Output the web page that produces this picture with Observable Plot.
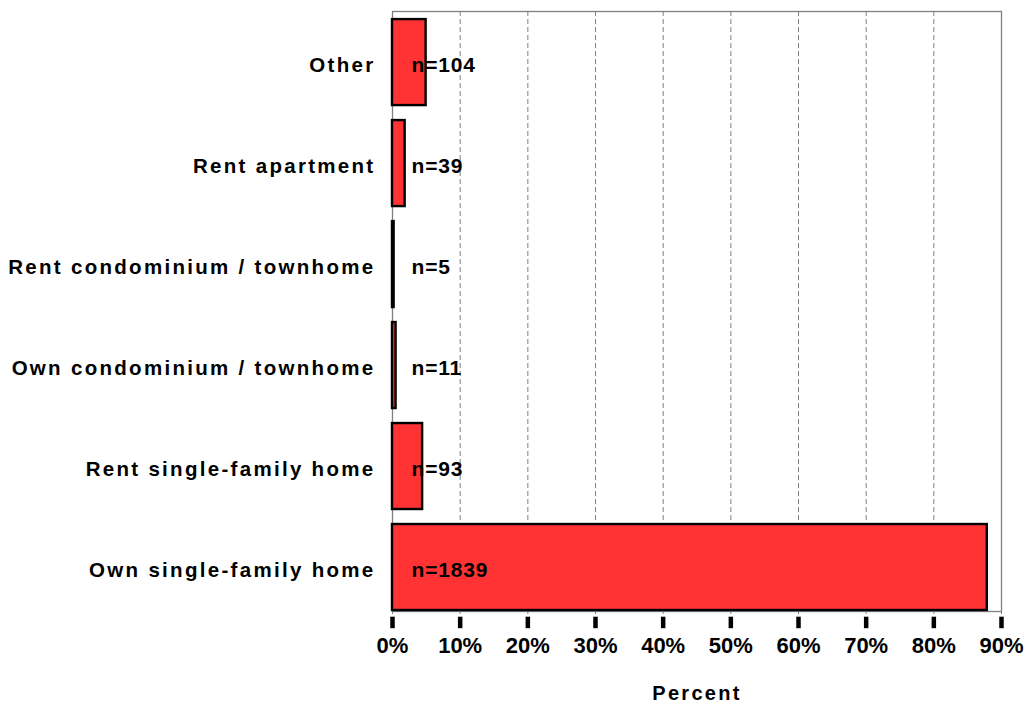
<!DOCTYPE html>
<html>
<head>
<meta charset="utf-8">
<script src="https://cdn.jsdelivr.net/npm/d3@7"></script>
<script src="https://cdn.jsdelivr.net/npm/@observablehq/plot@0.6"></script>
<style>
  html, body { margin: 0; padding: 0; background: #fff; }
  #chart svg { display: block; }
</style>
</head>
<body>
<div id="chart"></div>
<script>
const categories = [
  "Other",
  "Rent apartment",
  "Rent condominium / townhome",
  "Own condominium / townhome",
  "Rent single-family home",
  "Own single-family home"
];
const percents = [4.97, 1.87, 0.24, 0.53, 4.45, 87.9];
const counts = ["n=104", "n=39", "n=5", "n=11", "n=93", "n=1839"];
const xTicks = [0, 10, 20, 30, 40, 50, 60, 70, 80, 90];

const data = categories.map((c, i) => ({category: c, pct: percents[i], label: counts[i]}));
const font = "'Liberation Sans', Arial, sans-serif";

const chart = Plot.plot({
  width: 1027,
  height: 704,
  marginLeft: 392,
  marginRight: 26,
  marginTop: 11,
  marginBottom: 93,
  style: {fontFamily: font, fontSize: "20px", fontWeight: "bold", color: "black", background: "white"},
  x: {domain: [0, 90], ticks: xTicks},
  y: {domain: categories, paddingInner: 0.1485, paddingOuter: 0.045, align: 0.89, round: false},
  marks: [
    Plot.gridX(xTicks.slice(1, -1), {stroke: "#808080", strokeOpacity: 1, strokeDasharray: "5,3", strokeWidth: 1}),
    Plot.frame({stroke: "#808080", strokeWidth: 1.3}),
    Plot.axisX(xTicks, {tickSize: 3, tickFormat: () => "", stroke: "#808080", strokeWidth: 1, label: null}),
    Plot.barX(data, {x: "pct", y: "category", fill: "#FF3333", stroke: "black", strokeWidth: 2.4}),
    Plot.text(data, {x: () => 0, y: "category", text: "label", dx: 19, dy: 3, textAnchor: "start", fontSize: 21, fontWeight: "bold", fill: "black"}),
    Plot.axisX(xTicks, {tickSize: 11.5, tickFormat: () => "", dy: 5.7, stroke: "black", strokeWidth: 4.5, label: null}),
    Plot.axisX(xTicks, {tickSize: 0, tickPadding: 26, tickFormat: d => d + "%", fontSize: 22, fontWeight: "bold", fill: "black", label: "Percent", labelAnchor: "center", labelOffset: 88, labelArrow: "none"}),
    Plot.axisY({tickSize: 0, tickPadding: 17, dy: 3, fontSize: 20.5, fontWeight: "bold", fill: "black", label: null})
  ]
});

d3.select(chart).selectAll('[aria-label="y-axis tick label"]').attr("letter-spacing", "2.3px");
d3.select(chart).selectAll('[aria-label="text"]').attr("letter-spacing", "0.8px");
d3.select(chart).selectAll('[aria-label="x-axis label"]').attr("font-size", "20px").attr("letter-spacing", "2.3px");
d3.select(chart).selectAll('[aria-label="x-axis label"] text').attr("font-size", "20px");

document.getElementById("chart").appendChild(chart);
</script>
</body>
</html>
